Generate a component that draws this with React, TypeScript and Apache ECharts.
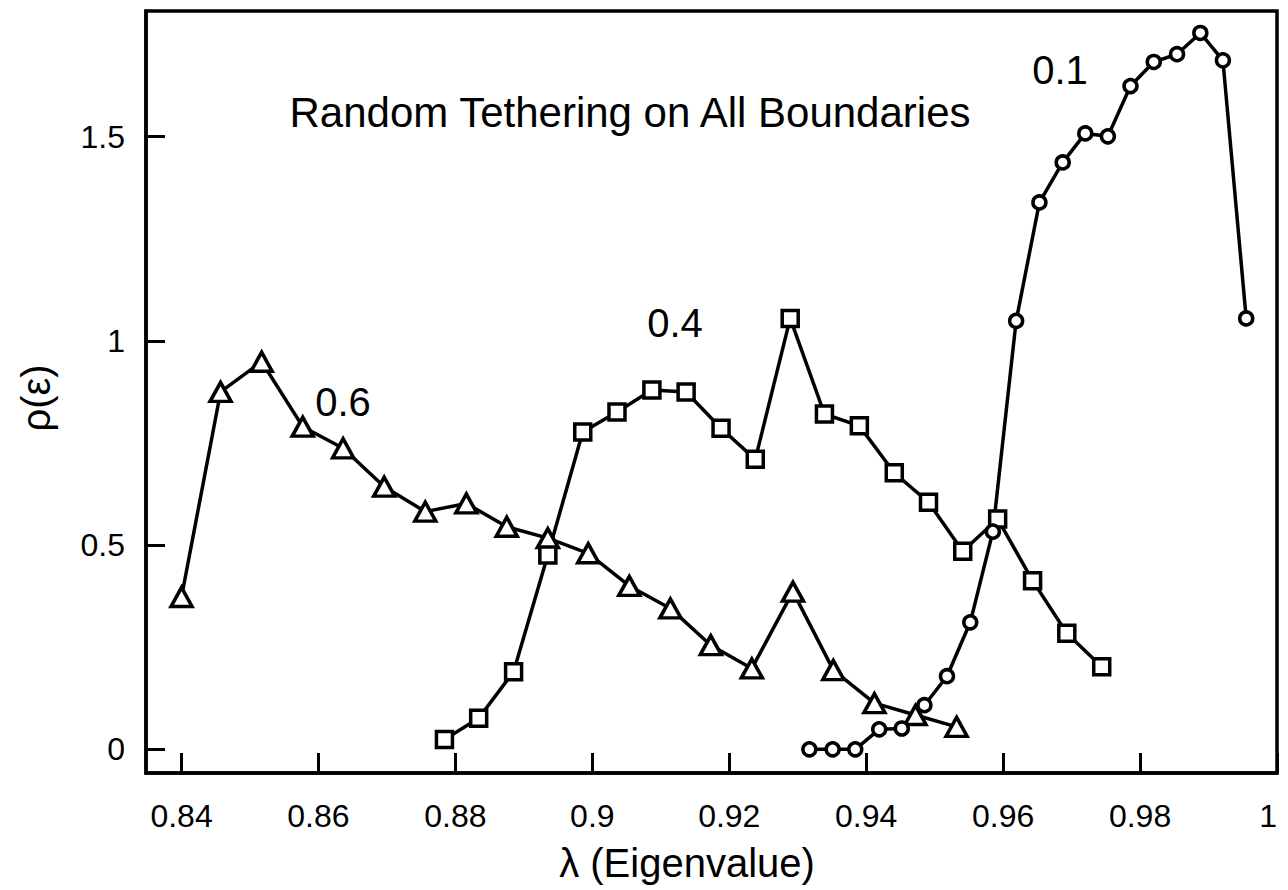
import React, { useEffect, useRef } from "react";
import * as echarts from "echarts";

// λ (eigenvalue) and ρ(ε) for each tethering fraction
const lambda06 = [0.8400, 0.8457, 0.8517, 0.8577, 0.8636, 0.8696, 0.8756, 0.8816, 0.8875, 0.8935, 0.8994, 0.9054, 0.9114, 0.9173, 0.9233, 0.9293, 0.9352, 0.9412, 0.9472, 0.9532];
const rho06 = [0.373, 0.875, 0.949, 0.790, 0.737, 0.643, 0.582, 0.602, 0.545, 0.517, 0.480, 0.400, 0.345, 0.255, 0.198, 0.386, 0.194, 0.113, 0.084, 0.055];

const lambda04 = [0.8784, 0.8834, 0.8885, 0.8935, 0.8986, 0.9036, 0.9087, 0.9137, 0.9188, 0.9238, 0.9289, 0.9339, 0.9390, 0.9441, 0.9491, 0.9541, 0.9592, 0.9643, 0.9693, 0.9744];
const rho04 = [0.024, 0.076, 0.190, 0.476, 0.777, 0.826, 0.880, 0.875, 0.786, 0.710, 1.055, 0.821, 0.792, 0.677, 0.605, 0.485, 0.564, 0.413, 0.284, 0.202];

const lambda01 = [0.9317, 0.9351, 0.9384, 0.9419, 0.9452, 0.9485, 0.9518, 0.9552, 0.9585, 0.9619, 0.9653, 0.9687, 0.9720, 0.9753, 0.9786, 0.9820, 0.9854, 0.9888, 0.9921, 0.9955];
const rho01 = [0, 0, 0, 0.049, 0.051, 0.108, 0.179, 0.311, 0.533, 1.049, 1.339, 1.437, 1.508, 1.501, 1.624, 1.683, 1.702, 1.754, 1.687, 1.055];

const xTicks = [0.84, 0.86, 0.88, 0.9, 0.92, 0.94, 0.96, 0.98, 1.0];
const yTicks = [0, 0.5, 1, 1.5];

const FONT = "'Liberation Sans', Arial, Helvetica, sans-serif";

function pairs(xs: number[], ys: number[]) {
  return xs.map((x, i) => [x, ys[i]]);
}

export default function App() {
  const ref = useRef<HTMLDivElement>(null);
  useEffect(() => {
    if (!ref.current) return;
    const chart = echarts.init(ref.current, null, { renderer: "svg" });
    const common = {
      type: "line",
      lineStyle: { color: "#000", width: 3.5 },
      itemStyle: { color: "#fff", borderColor: "#000", borderWidth: 3.5 },
      showSymbol: true,
      z: 3,
    };
    chart.setOption({
      animation: false,
      backgroundColor: "#fff",
      grid: {
        left: 146,
        top: 11,
        width: 1131,
        height: 762,
        show: true,
        borderColor: "#000",
        borderWidth: 3.5,
        backgroundColor: "transparent",
      },
      xAxis: {
        type: "value",
        min: 0.83481,
        max: 1.0,
        splitLine: { show: false },
        axisLine: { show: true, onZero: false, lineStyle: { color: "#000", width: 3.5 } },
        axisTick: {
          show: true,
          inside: true,
          length: 20,
          lineStyle: { color: "#000", width: 3 },
          customValues: xTicks,
        },
        axisLabel: {
          customValues: xTicks,
          color: "#000",
          fontSize: 32,
          fontFamily: FONT,
          margin: 27,
          alignMaxLabel: "right",
          formatter: (v: number) => String(Number(v.toFixed(2))),
        },
      },
      yAxis: {
        type: "value",
        min: -0.058,
        max: 1.8078,
        splitLine: { show: false },
        axisLine: { show: true, onZero: false, lineStyle: { color: "#000", width: 3.5 } },
        axisTick: {
          show: true,
          inside: true,
          length: 19,
          lineStyle: { color: "#000", width: 3 },
          customValues: yTicks,
        },
        axisLabel: {
          customValues: yTicks,
          color: "#000",
          fontSize: 32,
          fontFamily: FONT,
          margin: 21,
          formatter: (v: number) => String(v),
        },
      },
      graphic: [
        {
          type: "text",
          x: 630,
          y: 112,
          style: {
            text: "Random Tethering on All Boundaries",
            font: `42px ${FONT}`,
            fill: "#000",
            align: "center",
            verticalAlign: "middle",
          },
        },
        {
          type: "text",
          x: 1060,
          y: 70,
          style: { text: "0.1", font: `40px ${FONT}`, fill: "#000", align: "center", verticalAlign: "middle" },
        },
        {
          type: "text",
          x: 675,
          y: 323,
          style: { text: "0.4", font: `40px ${FONT}`, fill: "#000", align: "center", verticalAlign: "middle" },
        },
        {
          type: "text",
          x: 343,
          y: 402,
          style: { text: "0.6", font: `40px ${FONT}`, fill: "#000", align: "center", verticalAlign: "middle" },
        },
        {
          type: "text",
          x: 687,
          y: 863,
          style: { text: "λ (Eigenvalue)", font: `40px ${FONT}`, fill: "#000", align: "center", verticalAlign: "middle" },
        },
        {
          type: "text",
          x: 36,
          y: 398,
          rotation: Math.PI / 2,
          style: { text: "ρ(ε)", font: `40px ${FONT}`, fill: "#000", align: "center", verticalAlign: "middle" },
        },
      ],
      series: [
        { ...common, name: "0.6", data: pairs(lambda06, rho06), symbol: "triangle", symbolSize: [21, 19] },
        { ...common, name: "0.4", data: pairs(lambda04, rho04), symbol: "rect", symbolSize: 16 },
        { ...common, name: "0.1", data: pairs(lambda01, rho01), symbol: "circle", symbolSize: 13 },
      ],
    });
    return () => chart.dispose();
  }, []);
  return (
    <div
      ref={ref}
      style={{ position: "absolute", left: 0, top: 0, width: 1288, height: 890, background: "#fff" }}
    />
  );
}
